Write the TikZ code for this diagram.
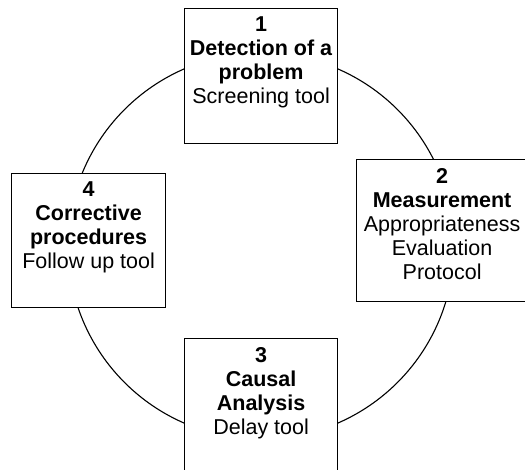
\documentclass[tikz,border=0pt]{standalone}
\usepackage{fontspec}
\setmainfont{Liberation Sans}
\newcommand{\cellbody}[3]{\parbox[t][#2][t]{#1}{\centering\fontsize{21.5}{24}\selectfont\vspace*{8.5pt}#3\par}}
\tikzset{
  stagebox/.style={draw=black, line width=1.2pt, fill=white, inner sep=0pt, anchor=north west},
  ringline/.style={draw=black, line width=1.1pt}
}
\begin{document}
\begin{tikzpicture}[x=1pt,y=-1pt]
\useasboundingbox (0,0) rectangle (525,470);
\fill[white] (0,0) rectangle (525,470);
\node[ringline, circle, minimum size=386pt, inner sep=0pt] (ring) at (261,246) {};
\node[stagebox] (s1) at (184,8) {\cellbody{153pt}{135pt}{\textbf{1}\\\textbf{Detection of a}\\\textbf{problem}\\Screening tool}};
\node[stagebox] (s2) at (356,159) {\cellbody{171pt}{142pt}{\textbf{2}\\\textbf{Measurement}\\Appropriateness\\Evaluation\\Protocol}};
\node[stagebox] (s3) at (184,338) {\cellbody{153pt}{145pt}{\textbf{3}\\\textbf{Causal}\\\textbf{Analysis}\\Delay tool}};
\node[stagebox] (s4) at (11,173) {\cellbody{154pt}{134pt}{\textbf{4}\\\textbf{Corrective}\\\textbf{procedures}\\Follow up tool}};
\end{tikzpicture}
\end{document}
